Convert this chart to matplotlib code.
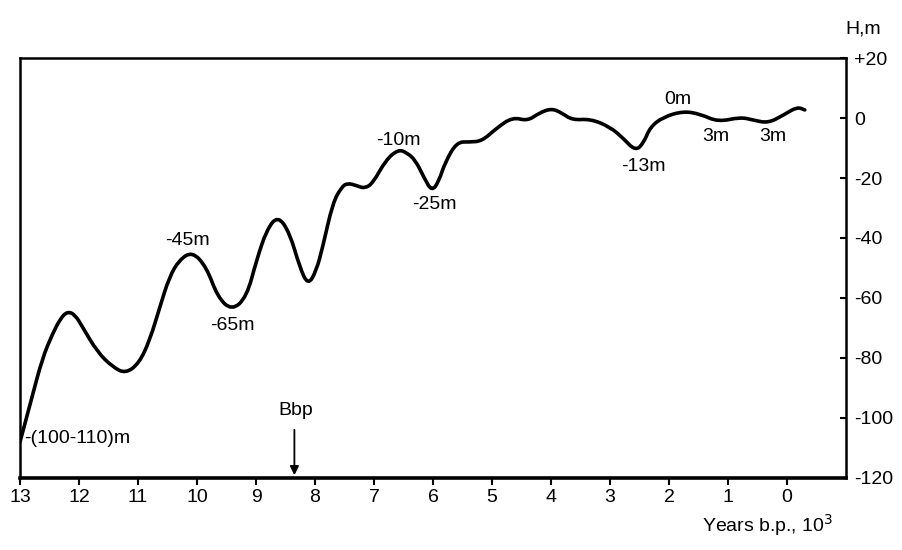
import matplotlib
matplotlib.use("Agg")
import matplotlib.pyplot as plt
from matplotlib.path import Path
from matplotlib.patches import PathPatch
import numpy as np

plt.rcParams['font.family'] = ['Liberation Sans', 'DejaVu Sans']

# Sea-level curve: age (thousand years b.p.) and level (m)
age_kyr = [13.0, 12.81, 12.62, 12.45, 12.32, 12.2, 12.07, 11.94, 11.69, 11.43, 11.21,
           10.98, 10.8, 10.63, 10.47, 10.3, 10.08, 9.84, 9.65, 9.41, 9.16, 8.99,
           8.82, 8.63, 8.43, 8.26, 8.12, 7.98, 7.87, 7.7, 7.55, 7.45, 7.3, 7.16,
           7.02, 6.8, 6.59, 6.45, 6.3, 6.15, 6.02, 5.9, 5.8, 5.6, 5.38, 5.17,
           4.92, 4.65, 4.4, 4.2, 3.99, 3.82, 3.64, 3.33, 3.0, 2.78, 2.57, 2.43,
           2.32, 2.1, 1.76, 1.47, 1.17, 0.79, 0.57, 0.32, 0.06, -0.17, -0.3]
level_m = [-108, -94, -80, -72, -67, -64.5, -65.5, -69.7, -78, -83, -85.2,
           -81.7, -74, -63, -53, -47.3, -44.5, -49.7, -59.7, -64.2, -59.7, -47.3,
           -37.3, -32.5, -38.3, -49.7, -55.8, -51, -43, -28.3, -23, -21.7, -22.5, -23.5,
           -21.7, -14, -10.5, -11.5, -14, -20, -24.5, -21, -15, -8, -8, -7.7,
           -3.3, 0.3, -1, 1.7, 3.2, 1.7, -0.7, -0.3, -3, -6.7, -11, -8.3,
           -3, 0.3, 2.3, 1.3, -1.3, 0.3, -0.7, -1.7, 1, 3.7, 2.7]

# Annotated levels: text, age, level
note_text = ['-(100-110)m', '-45m', '-65m', '-10m', '-25m', '-13m', '0m', '3m', '3m']
note_age = [12.93, 10.16, 9.4, 6.59, 5.97, 2.44, 1.85, 1.2, 0.25]
note_level = [-106.7, -41, -69.3, -7.5, -29, -16, 6.3, -6, -6]

x_ticks = list(range(13, -1, -1))
y_ticks = [20, 0, -20, -40, -60, -80, -100, -120]
y_tick_labels = ['+20', '0', '-20', '-40', '-60', '-80', '-100', '-120']

bbp_age = 8.35

fig = plt.figure(figsize=(9.02, 5.5), dpi=100)
ax = fig.add_axes([0.0222, 0.131, 0.9158, 0.7635])
ax.set_xlim(13, -1)
ax.set_ylim(-120, 20)

# Smooth curve through the readings (quadratic Bezier through midpoints)
pts = np.column_stack([age_kyr, level_m])
verts = [tuple(pts[0])]
codes = [Path.MOVETO]
for i in range(1, len(pts) - 1):
    mid = (pts[i] + pts[i + 1]) / 2
    verts += [tuple(pts[i]), tuple(mid)]
    codes += [Path.CURVE3, Path.CURVE3]
verts.append(tuple(pts[-1]))
codes.append(Path.LINETO)
curve = PathPatch(Path(verts, codes), facecolor='none', edgecolor='black',
                  lw=2.6, capstyle='round', joinstyle='round')
ax.add_patch(curve)

for t, xa, ya in zip(note_text, note_age, note_level):
    ha = 'left' if t.startswith('-(') else 'center'
    ax.text(xa, ya, t, fontsize=14, ha=ha, va='center', color='black')

# Bbp marker arrow
ax.annotate('', xy=(bbp_age, -120), xytext=(bbp_age, -103),
            arrowprops=dict(arrowstyle='-|>', lw=1.3, color='black', mutation_scale=13))
ax.text(bbp_age - 0.02, -97.5, 'Bbp', fontsize=14, ha='center', va='center')

# Axes styling
for side in ['left', 'top', 'right']:
    ax.spines[side].set_linewidth(1.8)
ax.spines['bottom'].set_linewidth(2.6)

ax.set_xticks(x_ticks)
ax.set_xticklabels([str(v) for v in x_ticks], fontsize=14)
ax.tick_params(axis='x', direction='out', length=5, width=1.5, pad=3)

ax.yaxis.tick_right()
ax.set_yticks(y_ticks)
ax.set_yticklabels(y_tick_labels, fontsize=14)
ax.tick_params(axis='y', direction='in', length=4, width=1.5, pad=6)

fig.text(0.957, 0.947, 'H,m', fontsize=14, ha='center', va='center')
fig.text(0.851, 0.045, 'Years b.p., 10$^3$', fontsize=14, ha='center', va='center')

fig.savefig('out.png', dpi=100)
